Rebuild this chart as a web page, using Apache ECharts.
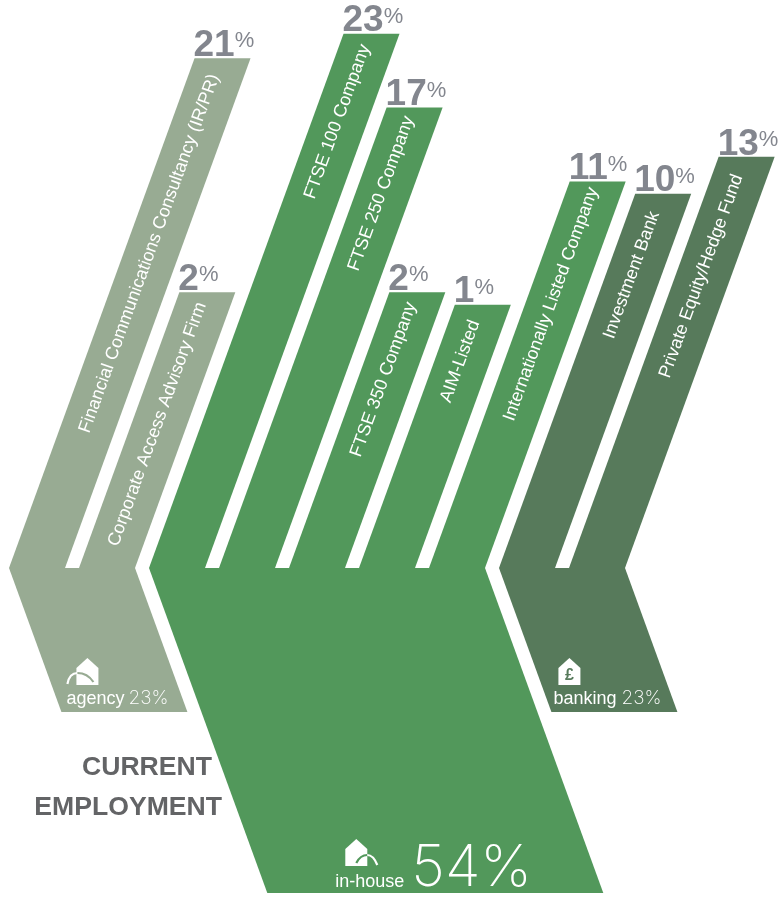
<!DOCTYPE html>
<html>
<head>
<meta charset="utf-8">
<title>Current employment</title>
<script src="https://cdn.jsdelivr.net/npm/echarts@6/dist/echarts.min.js"></script>
<style>
  html, body { margin: 0; padding: 0; background: #ffffff; }
  #chart { width: 782px; height: 899px; }
</style>
</head>
<body>
<div id="chart"></div>
<script>
// Sectors and their overall share of current employment
const groupNames = ['agency', 'in-house', 'banking'];
const groupShares = [23, 54, 23];

// Employer types, left to right, with the sector each belongs to
const roleNames = [
  'Financial Communications Consultancy (IR/PR)',
  'Corporate Access Advisory Firm',
  'FTSE 100 Company',
  'FTSE 250 Company',
  'FTSE 350 Company',
  'AIM-Listed',
  'Internationally Listed Company',
  'Investment Bank',
  'Private Equity/Hedge Fund'
];
const roleShares = [21, 2, 23, 17, 2, 1, 11, 10, 13];
const roleGroups = [0, 0, 1, 1, 1, 1, 1, 2, 2];

const groupColors = ['#98ab93', '#52985b', '#577a5b'];
const LABEL_GREY = '#83868e';
const TITLE_GREY = '#636466';
const LIGHT = 'Inter, "Liberation Sans", sans-serif';
const PLAIN = '"Liberation Sans", Arial, sans-serif';

// Shape rules: arms lean right going up, bodies lean right going down
const LEAN = 0.364;
const ARM_WIDTH = 0.8;          // in slots
const ROLE_BASE = -20.37;       // role axis value on the hinge line
const SHARE_BASE = -1.70;       // share axis value on the hinge line

// How far below its arm's top edge each role name ends
const nameInsets = [16.7, 10.6, 11.4, 9.4, 10.6, 16.3, 6.5, 18.2, 18.2];

// Where caption and icon sit inside each body, from its lower left corner
const captionLayout = [
  { textDx: 5,  textDy: -4, valueSize: 19, valueGap: 4, valueDy: 0, icon: 'arcLeft', iconDx: 0 },
  { textDx: 68, textDy: -2, valueSize: 58, valueGap: 7, valueDy: 7, icon: 'arcRight', iconDx: 78 },
  { textDx: 2,  textDy: -4, valueSize: 19, valueGap: 5, valueDy: 0, icon: 'pound', iconDx: 7 }
];

const measureCtx = document.createElement('canvas').getContext('2d');
function textWidth(text, font) {
  measureCtx.font = font;
  return measureCtx.measureText(text).width;
}

function houseIcon(kind, x, bottom, color) {
  const parts = [];
  const white = { fill: '#ffffff' };
  const curve = (c, stroke) => ({
    type: 'bezierCurve',
    shape: { x1: c[0], y1: c[1], cpx1: c[2], cpy1: c[3], x2: c[4], y2: c[5] },
    style: { fill: 'none', stroke: stroke, lineWidth: 2.2 }
  });
  const house = bx => ({
    type: 'polygon',
    shape: { points: [[bx, bottom], [bx, bottom - 17], [bx + 11, bottom - 27], [bx + 22, bottom - 17], [bx + 22, bottom]] },
    style: white
  });
  if (kind === 'arcLeft') {
    parts.push(house(x + 15));
    parts.push(curve([x + 6, bottom - 1, x + 8, bottom - 12, x + 16, bottom - 12], '#ffffff'));
    parts.push(curve([x + 16, bottom - 12, x + 26, bottom - 12, x + 32, bottom - 3], color));
  } else if (kind === 'arcRight') {
    parts.push(house(x));
    parts.push(curve([x + 11, bottom - 3, x + 15, bottom - 11, x + 22, bottom - 11], color));
    parts.push(curve([x + 22, bottom - 11, x + 28, bottom - 11, x + 32, bottom - 1], '#ffffff'));
  } else {
    parts.push(house(x));
    parts.push({ type: 'text', x: x + 11, y: bottom - 9, style: { text: '£', fill: color, font: 'bold 16px ' + PLAIN, textAlign: 'center', textVerticalAlign: 'middle' } });
  }
  return parts;
}

function renderBody(params, api) {
  const g = api.value(2);
  const slot = api.value(0);
  const slots = roleGroups.filter(r => r === g).length;
  const yTop = Math.round(api.coord([slot, SHARE_BASE])[1]);
  const yEnd = Math.round(api.coord([slot, api.value(1)])[1]);
  const xl = api.coord([slot, SHARE_BASE])[0];
  const xr = api.coord([slot + slots - 1 + ARM_WIDTH, SHARE_BASE])[0];
  const run = (yEnd - yTop) * LEAN;
  const color = groupColors[g];
  const cap = captionLayout[g];
  const left = xl + run;

  const nameFont = '18px ' + PLAIN;
  const valueFont = '200 ' + cap.valueSize + 'px ' + LIGHT;
  const name = groupNames[g];
  const nameW = textWidth(name, nameFont);
  const baseY = yEnd + cap.textDy;
  const nameX = left + cap.textDx;

  const children = [
    { type: 'polygon', shape: { points: [[xl, yTop], [left, yEnd], [xr + run, yEnd], [xr, yTop]] }, style: { fill: color } },
    { type: 'text', x: nameX, y: baseY, style: { text: name, fill: '#ffffff', font: nameFont, textAlign: 'left', textVerticalAlign: 'bottom' } },
    { type: 'text', x: nameX + nameW + cap.valueGap, y: baseY + cap.valueDy, style: { text: groupShares[g] + '%', fill: '#ffffff', font: valueFont, textAlign: 'left', textVerticalAlign: 'bottom' } }
  ];
  houseIcon(cap.icon, left + cap.iconDx, yEnd - 27, color).forEach(p => children.push(p));
  return { type: 'group', children: children };
}

function renderArm(params, api) {
  const i = params.dataIndex;
  const slot = api.value(0);
  const top = api.coord([slot, api.value(1)]);
  const foot = api.coord([slot, ROLE_BASE]);
  const wide = api.coord([slot + ARM_WIDTH, ROLE_BASE])[0] - foot[0];
  const yFoot = Math.round(foot[1]);
  const run = (yFoot - top[1]) * LEAN;
  const tl = foot[0] + run;
  const numFont = 'bold 37px ' + PLAIN;
  const num = String(roleShares[i]);
  const numW = textWidth(num, numFont);
  const down = nameInsets[i];
  return {
    type: 'group',
    children: [
      { type: 'text', x: tl - 1, y: top[1] + 6, style: { text: num, fill: LABEL_GREY, font: numFont, textAlign: 'left', textVerticalAlign: 'bottom' } },
      { type: 'text', x: tl + numW - 1, y: top[1] - 6, style: { text: '%', fill: LABEL_GREY, font: '22px ' + PLAIN, textAlign: 'left', textVerticalAlign: 'bottom' } },
      { type: 'polygon', shape: { points: [[foot[0], yFoot], [tl, top[1]], [tl + wide, top[1]], [foot[0] + wide, yFoot]] }, style: { fill: groupColors[roleGroups[i]] } },
      {
        type: 'text',
        x: tl + wide / 2 - down * LEAN - 2,
        y: top[1] + down,
        rotation: Math.atan2(1, LEAN),
        style: { text: roleNames[i], fill: '#ffffff', font: '18px ' + PLAIN, textAlign: 'right', textVerticalAlign: 'middle' }
      }
    ]
  };
}

const bodyData = groupNames.map((_, g) => [roleGroups.indexOf(g), groupShares[g], g]);
const armData = roleNames.map((_, i) => [i, roleShares[i], i]);

const chart = echarts.init(document.getElementById('chart'));
chart.setOption({
  animation: false,
  backgroundColor: '#ffffff',
  grid: { left: 0, right: 0, top: 0, bottom: 0 },
  xAxis: { type: 'value', min: -9 / 70, max: 773 / 70, show: false },
  yAxis: [
    { type: 'value', min: -47.24, max: 25.73, show: false },
    { type: 'value', min: -99.14, max: 55.09, inverse: true, show: false }
  ],
  graphic: [
    { type: 'text', right: 570, top: 754, style: { text: 'CURRENT', fill: TITLE_GREY, font: 'bold 26.6px ' + PLAIN } },
    { type: 'text', right: 560, top: 794, style: { text: 'EMPLOYMENT', fill: TITLE_GREY, font: 'bold 26.6px ' + PLAIN } }
  ],
  series: [
    { type: 'custom', yAxisIndex: 1, clip: false, data: bodyData, encode: { x: 0, y: 1 }, renderItem: renderBody, silent: true },
    { type: 'custom', yAxisIndex: 0, clip: false, data: armData, encode: { x: 0, y: 1 }, renderItem: renderArm, silent: true }
  ]
});
</script>
</body>
</html>
